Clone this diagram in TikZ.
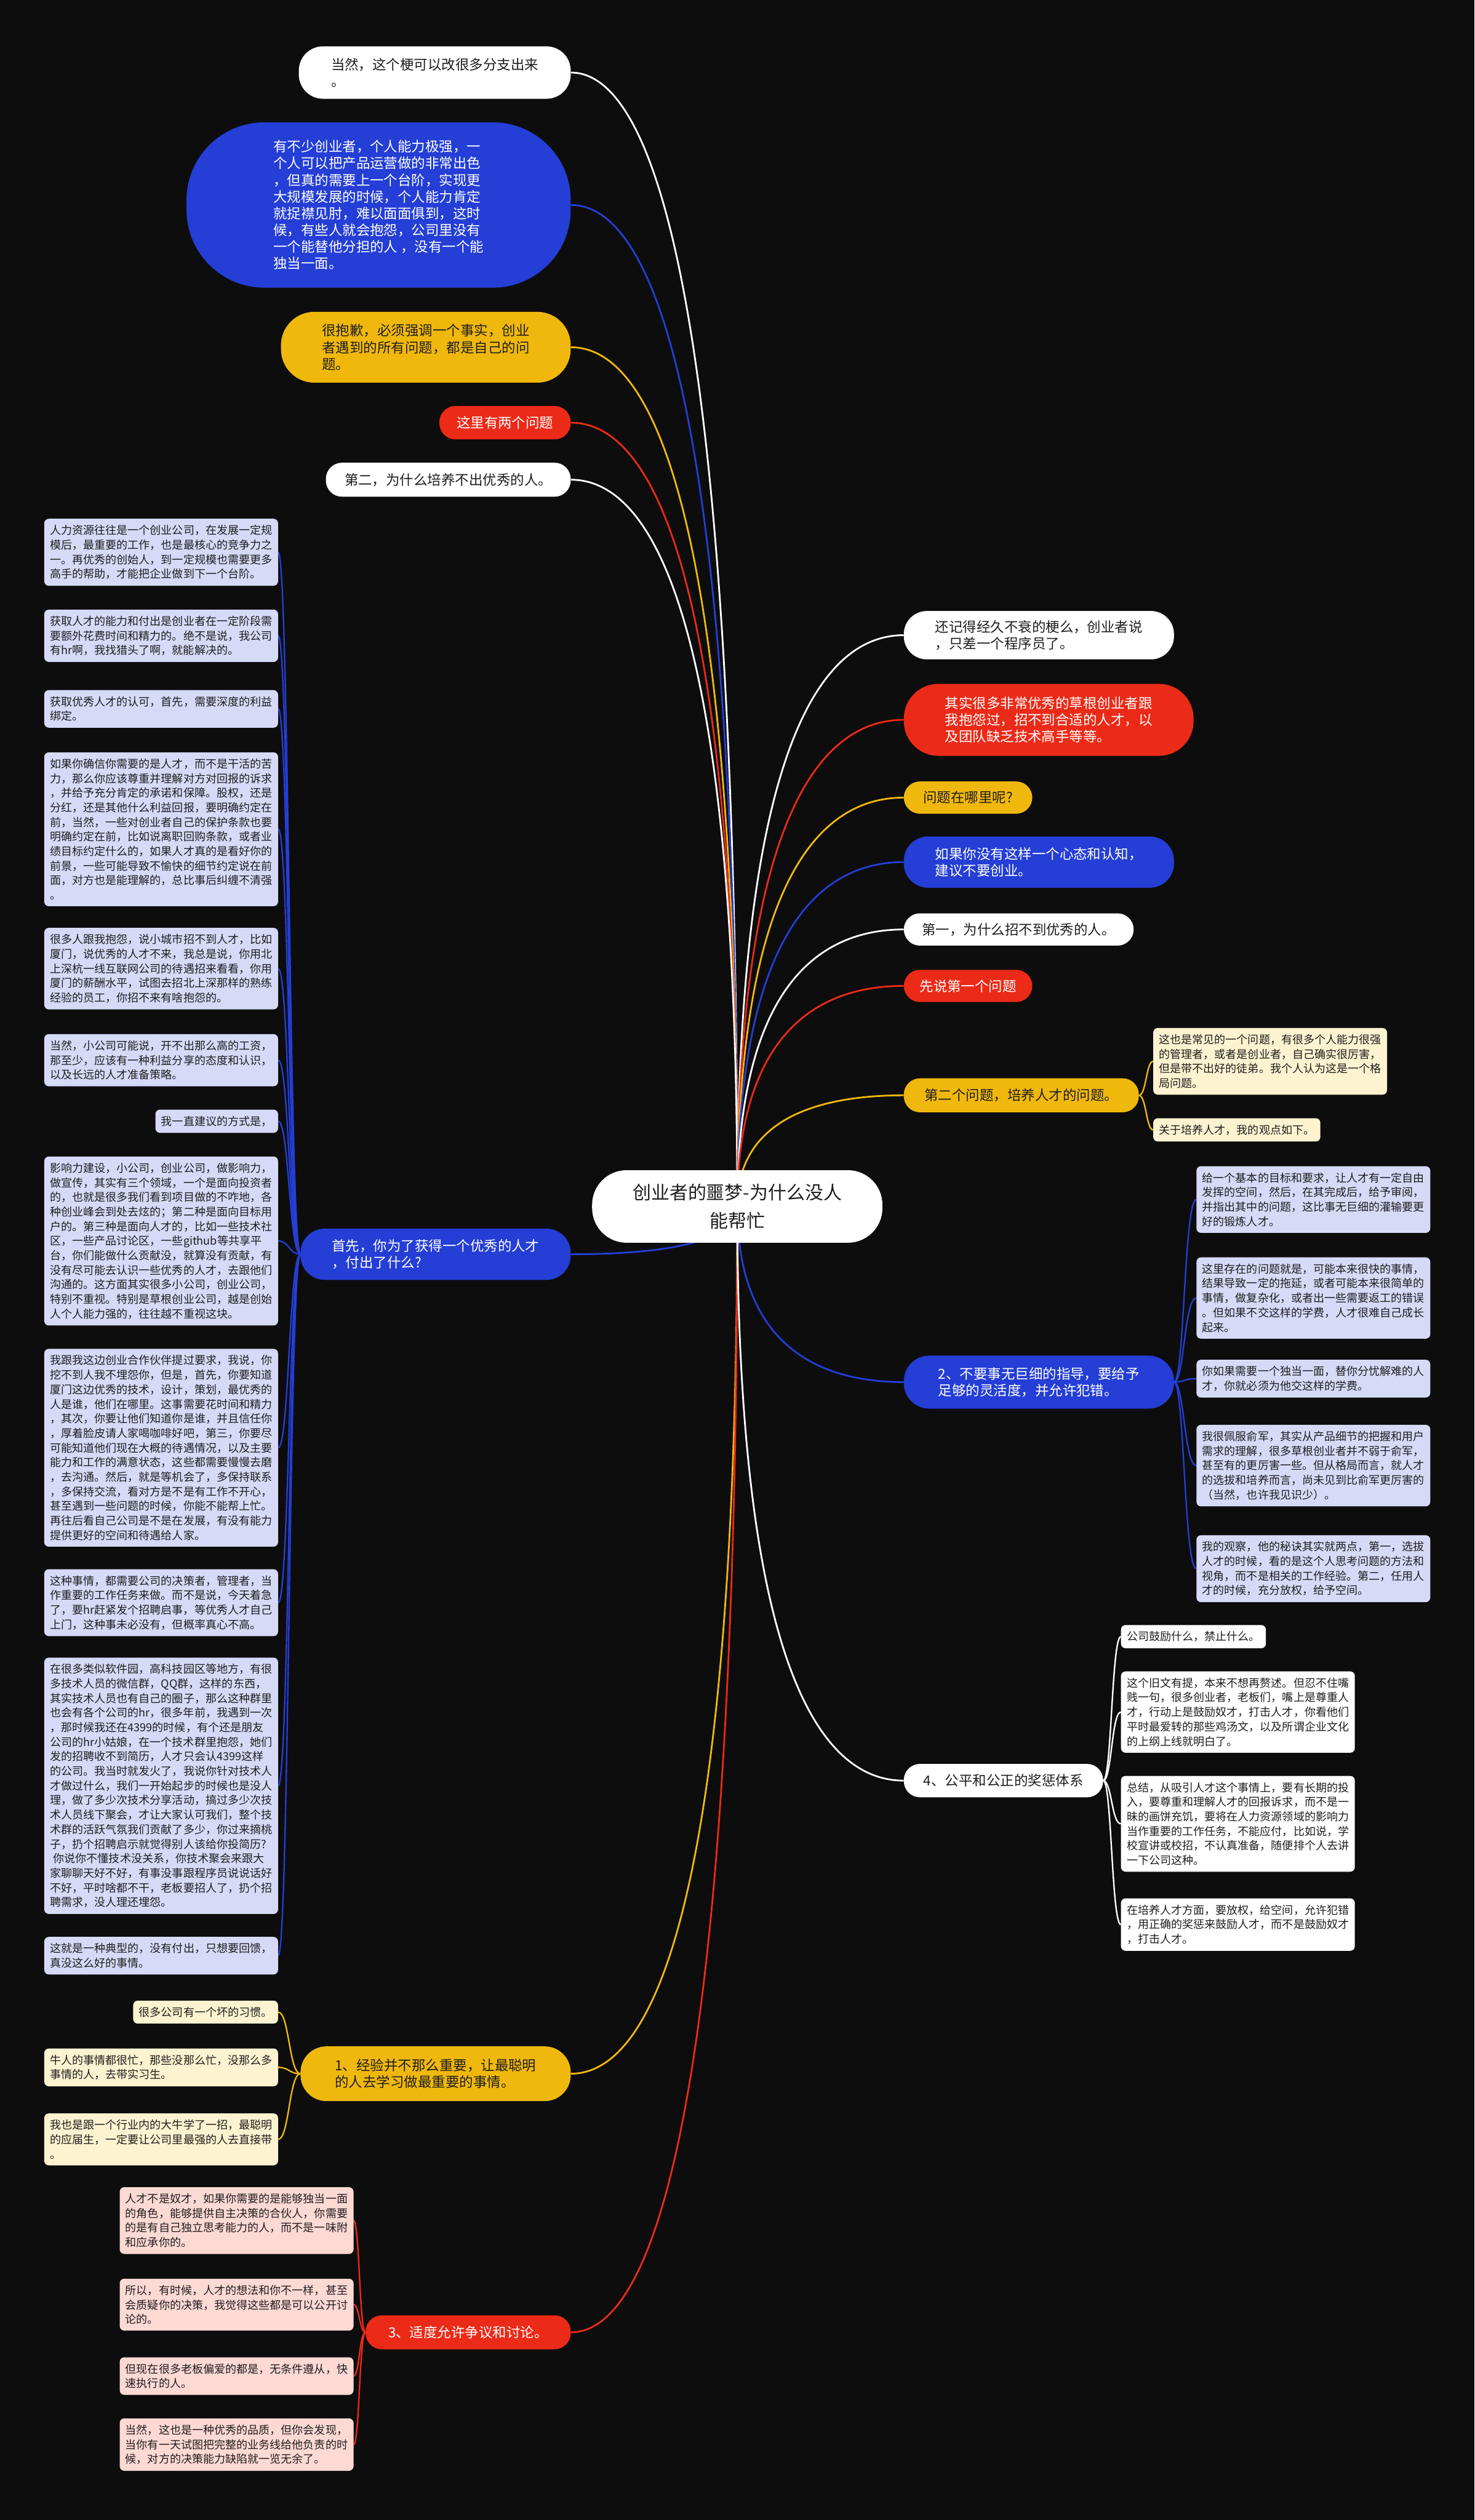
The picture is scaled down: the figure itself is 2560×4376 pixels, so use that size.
\documentclass[tikz,border=0pt]{standalone}
\usepackage{fontspec}
\setmainfont{Noto Sans CJK SC}
\usepackage{tikz}
\usetikzlibrary{positioning, calc, backgrounds}

\definecolor{bgdark}{RGB}{13,13,13}
\definecolor{mapblue}{RGB}{36,62,214}
\definecolor{mapred}{RGB}{236,42,24}
\definecolor{mapyellow}{RGB}{240,184,12}
\definecolor{leaflav}{RGB}{214,218,247}
\definecolor{leafcream}{RGB}{253,243,208}
\definecolor{leafpink}{RGB}{253,217,212}
\definecolor{inkdark}{RGB}{30,30,30}

\tikzset{
  topic/.style={rounded corners=28pt, align=left, inner sep=0pt,
                font=\fontsize{24}{29}\selectfont, text=inkdark},
  whitetopic/.style={topic, fill=white},
  bluetopic/.style={topic, fill=mapblue, text=white},
  redtopic/.style={topic, fill=mapred, text=white},
  yellowtopic/.style={topic, fill=mapyellow},
  leaf/.style={rounded corners=8pt, align=left, inner xsep=10pt, inner ysep=11pt,
               font=\fontsize{19.3}{25.3}\selectfont, text=inkdark},
  brline/.style={line width=3pt},
  subline/.style={line width=2.5pt},
}

\begin{document}
\begin{tikzpicture}[x=1pt, y=-1pt]
  \useasboundingbox (0,0) rectangle (2560,4376);
  \begin{scope}[on background layer]
    \fill[bgdark] (0,0) rectangle (2560,4376);
  \end{scope}

  % root
  \node[fill=white, rounded corners=60pt, minimum width=504pt, minimum height=126pt,
        align=center, inner sep=0pt, font=\fontsize{32}{50}\selectfont, text=inkdark]
        (root) at (1280,2095) {创业者的噩梦-为什么没人\\能帮忙};

  % upper left topics
  \node[whitetopic, rounded corners=42pt, minimum width=472pt, minimum height=91pt, anchor=east]
        (joke) at (991,126) {当然，这个梗可以改很多分支出来\\。};
  \node[bluetopic, rounded corners=135pt, minimum width=667pt, minimum height=287pt, anchor=east]
        (lone) at (991,356) {有不少创业者，个人能力极强，一\\个人可以把产品运营做的非常出色\\，但真的需要上一个台阶，实现更\\大规模发展的时候，个人能力肯定\\就捉襟见肘，难以面面俱到，这时\\候，有些人就会抱怨，公司里没有\\一个能替他分担的人 ，没有一个能\\独当一面。};
  \node[yellowtopic, rounded corners=58pt, minimum width=503pt, minimum height=123pt, anchor=east]
        (sorry) at (991,603) {很抱歉，必须强调一个事实，创业\\者遇到的所有问题，都是自己的问\\题。};
  \node[redtopic, minimum width=228pt, minimum height=58pt, anchor=east]
        (twoq) at (991,734) {这里有两个问题};
  \node[whitetopic, minimum width=425pt, minimum height=59pt, anchor=east]
        (whysecond) at (991,833) {第二，为什么培养不出优秀的人。};

  % right topics
  \node[whitetopic, rounded corners=40pt, minimum width=469pt, minimum height=84pt, anchor=west]
        (meme) at (1569,1103) {还记得经久不衰的梗么，创业者说\\，只差一个程序员了。};
  \node[redtopic, rounded corners=60pt, minimum width=503pt, minimum height=125pt, anchor=west]
        (complain) at (1569,1250) {其实很多非常优秀的草根创业者跟\\我抱怨过，招不到合适的人才，以\\及团队缺乏技术高手等等。};
  \node[yellowtopic, minimum width=223pt, minimum height=56pt, anchor=west]
        (where) at (1569,1385) {问题在哪里呢?};
  \node[bluetopic, rounded corners=42pt, minimum width=469pt, minimum height=89pt, anchor=west]
        (mindset) at (1569,1497) {如果你没有这样一个心态和认知，\\建议不要创业。};
  \node[whitetopic, minimum width=399pt, minimum height=56pt, anchor=west]
        (whyfirst) at (1569,1614) {第一，为什么招不到优秀的人。};
  \node[redtopic, minimum width=223pt, minimum height=56pt, anchor=west]
        (firstq) at (1569,1712) {先说第一个问题};
  \node[yellowtopic, minimum width=408pt, minimum height=59pt, anchor=west]
        (secondq) at (1569,1902) {第二个问题，培养人才的问题。};
  \node[bluetopic, rounded corners=44pt, minimum width=469pt, minimum height=92pt, anchor=west]
        (guide) at (1569,2400) {2、不要事无巨细的指导，要给予\\足够的灵活度，并允许犯错。};
  \node[whitetopic, minimum width=346pt, minimum height=58pt, anchor=west]
        (reward) at (1569,3092) {4、公平和公正的奖惩体系};

  % lower left topics
  \node[bluetopic, rounded corners=42pt, minimum width=469pt, minimum height=89pt, anchor=east]
        (paid) at (991,2178) {首先，你为了获得一个优秀的人才\\，付出了什么?};
  \node[yellowtopic, rounded corners=45pt, minimum width=469pt, minimum height=95pt, anchor=east]
        (exper) at (991,3601) {1、经验并不那么重要，让最聪明\\的人去学习做最重要的事情。};
  \node[redtopic, minimum width=356pt, minimum height=59pt, anchor=east]
        (debate) at (991,4050) {3、适度允许争议和讨论。};

  % leaves of paid
  \node[leaf, fill=leaflav, anchor=east] (paid1) at (483,959) {人力资源往往是一个创业公司，在发展一定规\\模后，最重要的工作，也是最核心的竞争力之\\一。再优秀的创始人，到一定规模也需要更多\\高手的帮助，才能把企业做到下一个台阶。};
  \node[leaf, fill=leaflav, anchor=east] (paid2) at (483,1104) {获取人才的能力和付出是创业者在一定阶段需\\要额外花费时间和精力的。绝不是说，我公司\\有hr啊，我找猎头了啊，就能解决的。};
  \node[leaf, fill=leaflav, anchor=east] (paid3) at (483,1231) {获取优秀人才的认可，首先，需要深度的利益\\绑定。};
  \node[leaf, fill=leaflav, anchor=east] (paid4) at (483,1440) {如果你确信你需要的是人才，而不是干活的苦\\力，那么你应该尊重并理解对方对回报的诉求\\，并给予充分肯定的承诺和保障。股权，还是\\分红，还是其他什么利益回报，要明确约定在\\前，当然，一些对创业者自己的保护条款也要\\明确约定在前，比如说离职回购条款，或者业\\绩目标约定什么的，如果人才真的是看好你的\\前景，一些可能导致不愉快的细节约定说在前\\面，对方也是能理解的，总比事后纠缠不清强\\。};
  \node[leaf, fill=leaflav, anchor=east] (paid5) at (483,1682) {很多人跟我抱怨，说小城市招不到人才，比如\\厦门，说优秀的人才不来，我总是说，你用北\\上深杭一线互联网公司的待遇招来看看，你用\\厦门的薪酬水平，试图去招北上深那样的熟练\\经验的员工，你招不来有啥抱怨的。};
  \node[leaf, fill=leaflav, anchor=east] (paid6) at (483,1841) {当然，小公司可能说，开不出那么高的工资，\\那至少，应该有一种利益分享的态度和认识，\\以及长远的人才准备策略。};
  \node[leaf, fill=leaflav, anchor=east] (paid7) at (483,1947) {我一直建议的方式是，};
  \node[leaf, fill=leaflav, anchor=east] (paid8) at (483,2155) {影响力建设，小公司，创业公司，做影响力，\\做宣传，其实有三个领域，一个是面向投资者\\的，也就是很多我们看到项目做的不咋地，各\\种创业峰会到处去炫的；第二种是面向目标用\\户的。第三种是面向人才的，比如一些技术社\\区，一些产品讨论区，一些github等共享平\\台，你们能做什么贡献没，就算没有贡献，有\\没有尽可能去认识一些优秀的人才，去跟他们\\沟通的。这方面其实很多小公司，创业公司，\\特别不重视。特别是草根创业公司，越是创始\\人个人能力强的，往往越不重视这块。};
  \node[leaf, fill=leaflav, anchor=east] (paid9) at (483,2514) {我跟我这边创业合作伙伴提过要求，我说，你\\挖不到人我不埋怨你，但是，首先，你要知道\\厦门这边优秀的技术，设计，策划，最优秀的\\人是谁，他们在哪里。这事需要花时间和精力\\，其次，你要让他们知道你是谁，并且信任你\\，厚着脸皮请人家喝咖啡好吧，第三，你要尽\\可能知道他们现在大概的待遇情况，以及主要\\能力和工作的满意状态，这些都需要慢慢去磨\\，去沟通。然后，就是等机会了，多保持联系\\，多保持交流，看对方是不是有工作不开心，\\甚至遇到一些问题的时候，你能不能帮上忙。\\再往后看自己公司是不是在发展，有没有能力\\提供更好的空间和待遇给人家。};
  \node[leaf, fill=leaflav, anchor=east] (paid10) at (483,2783) {这种事情，都需要公司的决策者，管理者，当\\作重要的工作任务来做。而不是说，今天着急\\了，要hr赶紧发个招聘启事，等优秀人才自己\\上门，这种事未必没有，但概率真心不高。};
  \node[leaf, fill=leaflav, anchor=east] (paid11) at (483,3101) {在很多类似软件园，高科技园区等地方，有很\\多技术人员的微信群，QQ群，这样的东西，\\其实技术人员也有自己的圈子，那么这种群里\\也会有各个公司的hr，很多年前，我遇到一次\\，那时候我还在4399的时候，有个还是朋友\\公司的hr小姑娘，在一个技术群里抱怨，她们\\发的招聘收不到简历，人才只会认4399这样\\的公司。我当时就发火了，我说你针对技术人\\才做过什么，我们一开始起步的时候也是没人\\理，做了多少次技术分享活动，搞过多少次技\\术人员线下聚会，才让大家认可我们，整个技\\术群的活跃气氛我们贡献了多少，你过来摘桃\\子，扔个招聘启示就觉得别人该给你投简历?\\\hspace*{0.3em}你说你不懂技术没关系，你技术聚会来跟大\\家聊聊天好不好，有事没事跟程序员说说话好\\不好，平时啥都不干，老板要招人了，扔个招\\聘需求，没人理还埋怨。};
  \node[leaf, fill=leaflav, anchor=east] (paid12) at (483,3396) {这就是一种典型的，没有付出，只想要回馈，\\真没这么好的事情。};

  % leaves of secondq
  \node[leaf, fill=leafcream, anchor=west] (train1) at (2002,1843) {这也是常见的一个问题，有很多个人能力很强\\的管理者，或者是创业者，自己确实很厉害，\\但是带不出好的徒弟。我个人认为这是一个格\\局问题。};
  \node[leaf, fill=leafcream, anchor=west] (train2) at (2002,1962) {关于培养人才，我的观点如下。};

  % leaves of guide
  \node[leaf, fill=leaflav, anchor=west] (guide1) at (2077,2083) {给一个基本的目标和要求，让人才有一定自由\\发挥的空间，然后，在其完成后，给予审阅，\\并指出其中的问题，这比事无巨细的灌输要更\\好的锻炼人才。};
  \node[leaf, fill=leaflav, anchor=west] (guide2) at (2077,2254) {这里存在的问题就是，可能本来很快的事情，\\结果导致一定的拖延，或者可能本来很简单的\\事情，做复杂化，或者出一些需要返工的错误\\。但如果不交这样的学费，人才很难自己成长\\起来。};
  \node[leaf, fill=leaflav, anchor=west] (guide3) at (2077,2394) {你如果需要一个独当一面，替你分忧解难的人\\才，你就必须为他交这样的学费。};
  \node[leaf, fill=leaflav, anchor=west] (guide4) at (2077,2545) {我很佩服俞军，其实从产品细节的把握和用户\\需求的理解，很多草根创业者并不弱于俞军，\\甚至有的更厉害一些。但从格局而言，就人才\\的选拔和培养而言，尚未见到比俞军更厉害的\\（当然，也许我见识少）。};
  \node[leaf, fill=leaflav, anchor=west] (guide5) at (2077,2724) {我的观察，他的秘诀其实就两点，第一，选拔\\人才的时候，看的是这个人思考问题的方法和\\视角，而不是相关的工作经验。第二，任用人\\才的时候，充分放权，给予空间。};

  % leaves of reward
  \node[leaf, fill=white, anchor=west] (reward1) at (1946,2842) {公司鼓励什么，禁止什么。};
  \node[leaf, fill=white, anchor=west] (reward2) at (1946,2973) {这个旧文有提，本来不想再赘述。但忍不住嘴\\贱一句，很多创业者，老板们，嘴上是尊重人\\才，行动上是鼓励奴才，打击人才，你看他们\\平时最爱转的那些鸡汤文，以及所谓企业文化\\的上纲上线就明白了。};
  \node[leaf, fill=white, anchor=west] (reward3) at (1946,3167) {总结，从吸引人才这个事情上，要有长期的投\\入，要尊重和理解人才的回报诉求，而不是一\\昧的画饼充饥，要将在人力资源领域的影响力\\当作重要的工作任务，不能应付，比如说，学\\校宣讲或校招，不认真准备，随便排个人去讲\\一下公司这种。};
  \node[leaf, fill=white, anchor=west] (reward4) at (1946,3342) {在培养人才方面，要放权，给空间，允许犯错\\，用正确的奖惩来鼓励人才，而不是鼓励奴才\\，打击人才。};

  % leaves of exper
  \node[leaf, fill=leafcream, anchor=east] (exper1) at (483,3494) {很多公司有一个坏的习惯。};
  \node[leaf, fill=leafcream, anchor=east] (exper2) at (483,3590) {牛人的事情都很忙，那些没那么忙，没那么多\\事情的人，去带实习生。};
  \node[leaf, fill=leafcream, anchor=east] (exper3) at (483,3715) {我也是跟一个行业内的大牛学了一招，最聪明\\的应届生，一定要让公司里最强的人去直接带\\。};

  % leaves of debate
  \node[leaf, fill=leafpink, anchor=east] (debate1) at (614,3856) {人才不是奴才，如果你需要的是能够独当一面\\的角色，能够提供自主决策的合伙人，你需要\\的是有自己独立思考能力的人，而不是一味附\\和应承你的。};
  \node[leaf, fill=leafpink, anchor=east] (debate2) at (614,4002) {所以，有时候，人才的想法和你不一样，甚至\\会质疑你的决策，我觉得这些都是可以公开讨\\论的。};
  \node[leaf, fill=leafpink, anchor=east] (debate3) at (614,4126) {但现在很多老板偏爱的都是，无条件遵从，快\\速执行的人。};
  \node[leaf, fill=leafpink, anchor=east] (debate4) at (614,4245) {当然，这也是一种优秀的品质，但你会发现，\\当你有一天试图把完整的业务线给他负责的时\\候，对方的决策能力缺陷就一览无余了。};

  % spines
  \coordinate (paidspine) at (502,0);
  \coordinate (trainspine) at (1990,0);
  \coordinate (guidespine) at (2056,0);
  \coordinate (rewardspine) at (1930,0);
  \coordinate (experspine) at (502,0);
  \coordinate (debatespine) at (624,0);

  \begin{scope}[on background layer]
    % main branches
    \foreach \n/\col in {joke/white, lone/mapblue, sorry/mapyellow, twoq/mapred, whysecond/white,
                         paid/mapblue, exper/mapyellow, debate/mapred}
      \draw[brline, color=\col] (root.center)
        .. controls ($(root.center)!0.8!(root.center |- \n.east)$)
        and ($(\n.east)!0.5!(\n.east -| root.center)$) .. (\n.east);
    \foreach \n/\col in {meme/white, complain/mapred, where/mapyellow, mindset/mapblue,
                         whyfirst/white, firstq/mapred, secondq/mapyellow, guide/mapblue, reward/white}
      \draw[brline, color=\col] (root.center)
        .. controls ($(root.center)!0.8!(root.center |- \n.west)$)
        and ($(\n.west)!0.5!(\n.west -| root.center)$) .. (\n.west);

    % leaf connectors
    \foreach \i in {1,...,12}
      \draw[subline, mapblue] (paid.west) .. controls (paid.west -| paidspine)
        and (paid\i.east -| paidspine) .. (paid\i.east);
    \foreach \i in {1,2,3}
      \draw[subline, mapyellow] (exper.west) .. controls (exper.west -| experspine)
        and (exper\i.east -| experspine) .. (exper\i.east);
    \foreach \i in {1,...,4}
      \draw[subline, mapred] (debate.west) .. controls (debate.west -| debatespine)
        and (debate\i.east -| debatespine) .. (debate\i.east);
    \foreach \i in {1,2}
      \draw[subline, mapyellow] (secondq.east) .. controls (secondq.east -| trainspine)
        and (train\i.west -| trainspine) .. (train\i.west);
    \foreach \i in {1,...,5}
      \draw[subline, mapblue] (guide.east) .. controls (guide.east -| guidespine)
        and (guide\i.west -| guidespine) .. (guide\i.west);
    \foreach \i in {1,...,4}
      \draw[subline, white] (reward.east) .. controls (reward.east -| rewardspine)
        and (reward\i.west -| rewardspine) .. (reward\i.west);
  \end{scope}
\end{tikzpicture}
\end{document}
